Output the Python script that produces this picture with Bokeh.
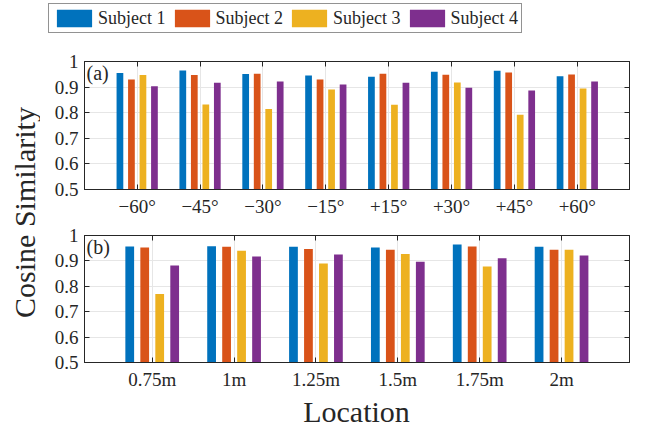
import math
from bokeh.plotting import figure
from bokeh.models import (Range1d, FixedTicker, LinearAxis, Legend, LegendItem,
                          Label, CustomJSTickFormatter)
from bokeh.layouts import row, column
from bokeh.embed import file_html
from bokeh.resources import INLINE

# ---------------- data ----------------
subjects = ["Subject 1", "Subject 2", "Subject 3", "Subject 4"]

angles = ["\u221260\u00b0", "\u221245\u00b0", "\u221230\u00b0", "\u221215\u00b0",
          "+15\u00b0", "+30\u00b0", "+45\u00b0", "+60\u00b0"]
a_s1 = [0.955, 0.965, 0.951, 0.945, 0.940, 0.960, 0.964, 0.942]
a_s2 = [0.930, 0.947, 0.952, 0.930, 0.952, 0.948, 0.957, 0.949]
a_s3 = [0.947, 0.832, 0.814, 0.891, 0.831, 0.918, 0.792, 0.895]
a_s4 = [0.903, 0.917, 0.922, 0.910, 0.917, 0.897, 0.887, 0.922]

distances = ["0.75m", "1m", "1.25m", "1.5m", "1.75m", "2m"]
b_s1 = [0.957, 0.958, 0.956, 0.953, 0.965, 0.956]
b_s2 = [0.953, 0.956, 0.947, 0.944, 0.957, 0.944]
b_s3 = [0.770, 0.940, 0.890, 0.927, 0.878, 0.944]
b_s4 = [0.882, 0.917, 0.925, 0.897, 0.910, 0.921]

yticks = [0.5, 0.6, 0.7, 0.8, 0.9, 1.0]
ytick_labels = ["0.5", "0.6", "0.7", "0.8", "0.9", "1"]

# ---------------- style ----------------
FONT = "Liberation Serif"
COLORS = ["#0072BD", "#D95319", "#EDB120", "#7E2F8E"]
OFFSETS = [-0.2745, -0.0915, 0.0915, 0.2745]
BAR_W = 0.107
AX = "#262626"
GRID = "#e6e6e6"
TICK_FS = "19px"


def strip(width, height):
    return figure(width=width, height=height, title=None,
                  x_range=Range1d(0, width), y_range=Range1d(0, height),
                  x_axis_type=None, y_axis_type=None, min_border=0,
                  outline_line_color=None, toolbar_location=None,
                  output_backend="svg")


def blank_axis(ticks):
    return LinearAxis(ticker=FixedTicker(ticks=ticks),
                      formatter=CustomJSTickFormatter(code="return ''"),
                      major_tick_in=5, major_tick_out=0,
                      minor_tick_line_color=None,
                      major_label_standoff=0,
                      major_label_text_font_size="0px",
                      axis_line_color=AX, major_tick_line_color=AX)


def make_panel(cats, series, xr, height, b_top, b_bottom, tag):
    p = figure(width=617, height=height, title=None, x_range=xr, y_range=Range1d(0.5, 1.0),
               output_backend="svg", toolbar_location=None,
               min_border_left=44, min_border_right=28,
               min_border_top=b_top, min_border_bottom=b_bottom,
               background_fill_color="white", border_fill_color="white")
    xs = list(range(1, len(cats) + 1))
    for k, vals in enumerate(series):
        p.vbar(x=[x + OFFSETS[k] for x in xs], top=vals, bottom=0.5,
               width=BAR_W, fill_color=COLORS[k], line_color=None)

    xa = p.xaxis[0]
    xa.ticker = FixedTicker(ticks=xs)
    xa.major_label_overrides = {x: c for x, c in zip(xs, cats)}
    ya = p.yaxis[0]
    ya.ticker = FixedTicker(ticks=yticks)
    ya.major_label_overrides = {t: l for t, l in zip(yticks, ytick_labels)}
    for ax in (xa, ya):
        ax.major_tick_in = 5
        ax.major_tick_out = 0
        ax.minor_tick_line_color = None
        ax.axis_line_color = AX
        ax.major_tick_line_color = AX
        ax.major_label_text_font = FONT
        ax.major_label_text_font_size = TICK_FS
        ax.major_label_text_color = "#262626"
        ax.major_label_standoff = 6

    p.xgrid.ticker = FixedTicker(ticks=xs)
    p.ygrid.ticker = FixedTicker(ticks=yticks)
    p.grid.grid_line_color = GRID
    p.outline_line_color = AX

    p.add_layout(blank_axis(xs), "above")
    p.add_layout(blank_axis(yticks), "right")

    p.add_layout(Label(x=xr.start, y=0.998, x_offset=2, text=tag,
                       text_font=FONT, text_font_size="20px",
                       text_align="left", text_baseline="top",
                       text_color="#262626"))
    return p


top = make_panel(angles, [a_s1, a_s2, a_s3, a_s4],
                 Range1d(0.162, 8.83), 186, 25, 33, "(a)")
bot = make_panel(distances, [b_s1, b_s2, b_s3, b_s4],
                 Range1d(0.173, 6.83), 170, 13, 30, "(b)")

# ---------------- legend strip ----------------
leg_fig = strip(657, 36)
leg_rends = [leg_fig.vbar(x=[k + 1], top=[0], bottom=0, width=0.5, fill_color=c,
                          line_color=None, visible=False)
             for k, c in enumerate(COLORS)]
legend = Legend(items=[LegendItem(label=s, renderers=[r]) for s, r in zip(subjects, leg_rends)],
                orientation="horizontal", location=(48, 3), click_policy="none",
                glyph_width=44, glyph_height=22, label_height=22,
                label_standoff=2, spacing=4, padding=3, margin=0,
                label_text_font=FONT, label_text_font_size="18px",
                label_text_color="#262626",
                border_line_color=AX, border_line_width=1,
                background_fill_color="white", background_fill_alpha=1.0)
leg_fig.add_layout(legend, "center")

# ---------------- y label strip ----------------
lab = strip(40, 356)
lab.add_layout(Label(x=24, y=180, text="Cosine Similarity", angle=math.pi / 2,
                     text_align="center", text_baseline="middle", text_font=FONT,
                     text_font_size="30px", text_color="#262626"))

# ---------------- x label strip ----------------
xl = strip(657, 37)
xl.add_layout(Label(x=356, y=18, text="Location", text_font=FONT,
                    text_font_size="30px", text_align="center",
                    text_baseline="middle", text_color="#262626"))

layout = column(leg_fig, row(lab, column(top, bot)), xl)
open("out.html", "w").write(file_html(layout, INLINE))
